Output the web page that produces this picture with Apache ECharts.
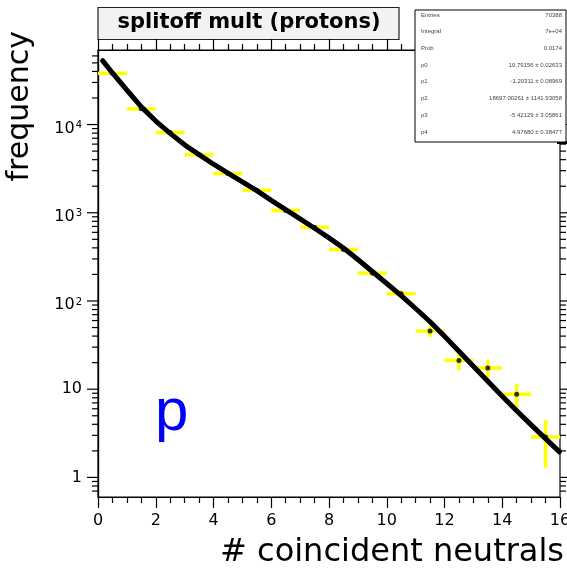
<!DOCTYPE html>
<html><head><meta charset="utf-8">
<script src="https://cdn.jsdelivr.net/npm/echarts@6/dist/echarts.min.js"></script>
<style>html,body{margin:0;padding:0;background:#fff}#c{width:567px;height:571px}</style>
</head><body><div id="c"></div>
<script>
// ---- data ----
const binCenters = [0.5, 1.5, 2.5, 3.5, 4.5, 5.5, 6.5, 7.5, 8.5, 9.5, 10.5, 11.5, 12.5, 13.5, 14.5, 15.5];
const counts = [38100, 15060, 8110, 4540, 2790, 1800, 1062, 687, 384, 207, 121, 45.6, 21.2, 17.4, 8.75, 2.88];
const countErrors = [195, 123, 90, 67, 53, 42, 33, 26, 20, 14.4, 11, 6.5, 4.8, 4.0, 2.8, 1.6];
const fitX = [0.16, 0.5, 1.0, 1.5, 2.0, 2.5, 3.0, 3.5, 4.0, 4.5, 5.0, 5.5, 6.0, 6.5, 7.0, 7.5, 8.0, 8.5,
  9.0, 9.5, 10.0, 10.5, 11.0, 11.5, 12.0, 12.5, 13.0, 13.5, 14.0, 14.5, 15.0, 15.5, 15.98];
const fitY = [53100, 38460, 24550, 15850, 10960, 7940, 5890, 4570, 3550, 2820, 2240, 1780, 1380, 1084, 851, 668, 519, 398,
  295, 216, 158, 115, 82.2, 58.2, 39.8, 26.9, 18.2, 12.3, 8.32, 5.69, 3.94, 2.75, 1.95];
const yDecades = [1, 10, 100, 1000, 10000];
const statNames = ['Entries', 'Integral', 'Prob', 'p0', 'p1', 'p2', 'p3', 'p4'];
const statValues = ['70388', '7e+04', '0.0174', '10.79156 \u00b1 0.02633', '-1.20311 \u00b1 0.08969',
  '18697.00261 \u00b1 1141.93058', '-5.42129 \u00b1 3.05861', '4.97680 \u00b1 0.38477'];
const titleText = 'splitoff mult (protons)';
const xTitle = '# coincident neutrals';
const yTitle = 'frequency';
const annotation = 'p';

// ---- tick positions on the log axis (ROOT style minor ticks) ----
const yTickData = [];
[0.1, 1, 10, 100, 1000, 10000].forEach(function (d) {
  for (let k = 1; k <= 9; k++) {
    const v = d * k;
    if (v >= 0.65 && v <= 65000) yTickData.push([0, v, k === 1 ? 11 : 6]);
  }
});

function yLabel(v) {
  const lg = Math.log10(v);
  const n = Math.round(lg);
  if (Math.abs(lg - n) > 1e-6 || yDecades.indexOf(Math.pow(10, n)) < 0) return '';
  if (n === 0) return '{c|1}';
  if (n === 1) return '{c|10}';
  return '{b|10}{s|' + n + '}';
}

const chart = echarts.init(document.getElementById('c'), null, {renderer: 'canvas'});
const FONT = 'DejaVu Sans';
const xAxisCommon = {
  type: 'value', min: 0, max: 16, interval: 2,
  axisLine: {show: true, lineStyle: {color: '#000', width: 1.2}},
  axisTick: {show: true, inside: false, length: 11, lineStyle: {color: '#000', width: 1.2}},
  minorTick: {show: true, splitNumber: 4, length: 6, lineStyle: {color: '#000', width: 1.2}},
  splitLine: {show: false}
};
const yAxisCommon = {
  type: 'log', logBase: 10, min: 0.6, max: 70000,
  axisLine: {show: true, lineStyle: {color: '#000', width: 1.2}},
  axisTick: {show: false}, minorTick: {show: false}, splitLine: {show: false}
};
const Z = 100;
const statElements = [
  {type: 'rect', z: Z, shape: {x: 557, y: 141, width: 10, height: 3}, style: {fill: '#000'}},
  {type: 'rect', z: Z, shape: {x: 415, y: 10, width: 151, height: 132}, style: {fill: '#fff', stroke: '#000', lineWidth: 1}}
].concat(statNames.map(function (n, i) {
  return {type: 'text', z: Z + 1, x: 421, y: 15 + i * 16.7, style: {text: n, font: '6px "Liberation Sans"', fill: '#444', verticalAlign: 'middle'}};
})).concat(statValues.map(function (v, i) {
  return {type: 'text', z: Z + 1, x: 562, y: 15 + i * 16.7, style: {text: v, font: '6px "Liberation Sans"', fill: '#444', align: 'right', verticalAlign: 'middle'}};
}));

chart.setOption({
  animation: false,
  backgroundColor: '#fff',
  title: {
    text: titleText, left: 249, top: 8, textAlign: 'center', padding: 0,
    textStyle: {fontFamily: FONT, fontWeight: 'bold', fontSize: 21, color: '#000', lineHeight: 30}
  },
  grid: {left: 98, right: 7, top: 50, bottom: 74, outerBoundsMode: 'none', containLabel: false,
    show: true, borderColor: '#000', borderWidth: 1.2, backgroundColor: 'transparent'},
  xAxis: [
    Object.assign({}, xAxisCommon, {
      position: 'bottom',
      axisLabel: {show: true, margin: 16, fontFamily: FONT, fontSize: 16, color: '#000', showMinLabel: true, showMaxLabel: true}
    }),
    Object.assign({}, xAxisCommon, {position: 'top', axisLabel: {show: false}})
  ],
  yAxis: [
    Object.assign({}, yAxisCommon, {
      position: 'left',
      axisLabel: {
        show: true, margin: 16, formatter: yLabel, showMinLabel: false, showMaxLabel: false,
        rich: {
          b: {fontFamily: FONT, fontSize: 16, lineHeight: 16, color: '#000', padding: [8, 0, 0, 0]},
          s: {fontFamily: FONT, fontSize: 10, lineHeight: 10, color: '#000', verticalAlign: 'top', padding: [4, 0, 0, 1]},
          c: {fontFamily: FONT, fontSize: 16, lineHeight: 16, color: '#000'}
        }
      }
    }),
    Object.assign({}, yAxisCommon, {position: 'right', axisLabel: {show: false}})
  ],
  series: [
    {
      name: 'ticks', type: 'custom', xAxisIndex: 0, yAxisIndex: 0, clip: false, silent: true, z: 1,
      data: yTickData,
      renderItem: function (params, api) {
        const v = api.value(1), len = api.value(2);
        const a = api.coord([0, v]), b = api.coord([16, v]);
        return {type: 'group', children: [
          {type: 'line', shape: {x1: a[0] - len, y1: a[1], x2: a[0], y2: a[1]}, style: {stroke: '#000', lineWidth: 1.2}},
          {type: 'line', shape: {x1: b[0], y1: b[1], x2: b[0] + len, y2: b[1]}, style: {stroke: '#000', lineWidth: 1.2}}
        ]};
      }
    },
    {
      name: 'errors', type: 'custom', xAxisIndex: 0, yAxisIndex: 0, clip: false, silent: true, z: 2,
      data: binCenters.map(function (x, i) { return [x, counts[i], countErrors[i]]; }),
      renderItem: function (params, api) {
        const x = api.value(0), y = api.value(1), e = api.value(2);
        const l = api.coord([x - 0.5, y]), r = api.coord([x + 0.5, y]);
        const t = api.coord([x, y + e]), b = api.coord([x, Math.max(y - e, 0.61)]);
        const st = {stroke: '#ffff00', lineWidth: 3.5};
        return {type: 'group', children: [
          {type: 'line', shape: {x1: l[0], y1: l[1], x2: r[0], y2: r[1]}, style: st},
          {type: 'line', shape: {x1: t[0], y1: t[1], x2: b[0], y2: b[1]}, style: st}
        ]};
      }
    },
    {
      name: 'fit', type: 'line', xAxisIndex: 0, yAxisIndex: 0, z: 3,
      data: fitX.map(function (x, i) { return [x, fitY[i]]; }),
      smooth: false, showSymbol: false, lineStyle: {color: '#000', width: 5, join: 'round', cap: 'round'}, silent: true
    },
    {
      name: 'data', type: 'scatter', xAxisIndex: 0, yAxisIndex: 0, z: 4,
      data: binCenters.map(function (x, i) { return [x, counts[i]]; }),
      symbol: 'circle', symbolSize: 5, itemStyle: {color: '#000'}, silent: true
    }
  ],
  graphic: [
    {type: 'rect', z: 0, shape: {x: 98, y: 7.5, width: 301, height: 32},
     style: {fill: '#f2f2f2', stroke: '#222', lineWidth: 1.2}},
    {type: 'text', right: 3, top: 537, style: {text: xTitle, font: '32px "DejaVu Sans"', fill: '#000'}},
    {type: 'text', x: 20, y: 31, rotation: Math.PI / 2,
     style: {text: yTitle, font: '30px "DejaVu Sans"', fill: '#000', align: 'right', verticalAlign: 'middle'}},
    {type: 'text', left: 155, top: 383, style: {text: annotation, font: '60px "Liberation Sans"', fill: '#0000ff'}}
  ].concat(statElements)
});
</script></body></html>
